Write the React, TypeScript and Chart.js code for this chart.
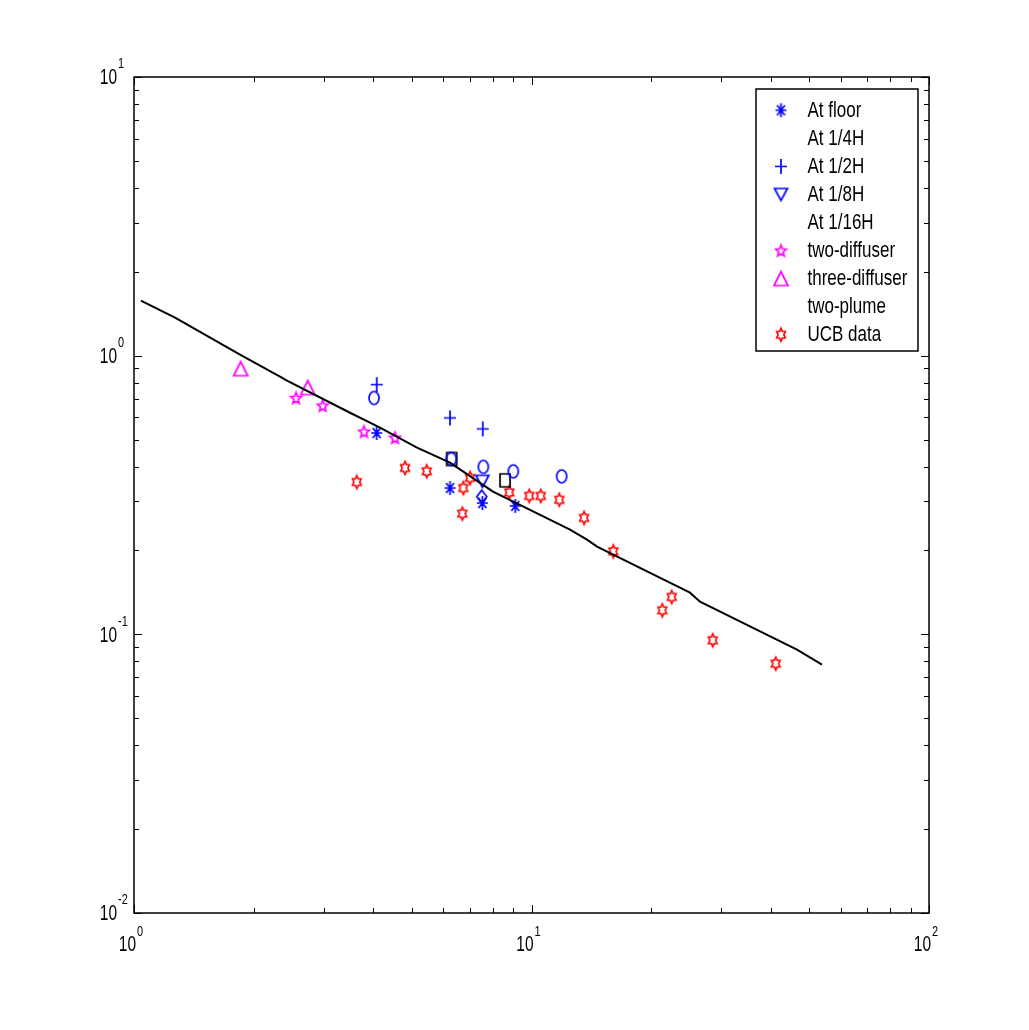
import React, { useEffect, useRef } from "react";
import { Chart, registerables } from "chart.js";

Chart.register(...registerables);

// Fitted correlation line
const FIT_X = [1.041, 1.268, 1.321, 1.848, 2.33, 2.426, 3.495, 4.158, 5.152, 6.237, 7.865, 8.002, 12.5, 13.79, 14.62, 25.04, 26.54, 46.55, 53.81];
const FIT_Y = [1.575, 1.369, 1.324, 1.008, 0.841, 0.813, 0.624, 0.552, 0.468, 0.413, 0.3305, 0.325, 0.2375, 0.2187, 0.2064, 0.1411, 0.131, 0.0881, 0.0778];

// At floor (asterisk)
const FLOOR_X = [4.079, 6.237, 7.523, 9.1];
const FLOOR_Y = [0.528, 0.335, 0.296, 0.289];
// At 1/4H (circle)
const QUARTER_X = [4.016, 6.284, 7.567, 8.999, 11.91];
const QUARTER_Y = [0.705, 0.426, 0.399, 0.3845, 0.369];
// At 1/2H (plus)
const HALF_X = [4.079, 6.237, 7.54];
const HALF_Y = [0.787, 0.598, 0.546];
// At 1/8H (triangle down)
const EIGHTH_X = [7.523];
const EIGHTH_Y = [0.354];
// At 1/16H (diamond)
const SIXTEENTH_X = [7.496];
const SIXTEENTH_Y = [0.312];
// two-diffuser (pentagram)
const TWO_DIFF_X = [2.556, 2.984, 3.791, 4.536];
const TWO_DIFF_Y = [0.705, 0.662, 0.534, 0.508];
// three-diffuser (triangle up)
const THREE_DIFF_X = [1.855, 2.735];
const THREE_DIFF_Y = [0.898, 0.768];
// two-plume (square)
const TWO_PLUME_X = [6.298, 8.579];
const TWO_PLUME_Y = [0.426, 0.357];
// UCB data (hexagram)
const UCB_X = [3.634, 4.806, 5.45, 6.698, 6.737, 7.003, 8.794, 9.874, 10.55, 11.75, 13.56, 16.06, 21.34, 22.53, 28.57, 41.15];
const UCB_Y = [0.352, 0.3955, 0.3845, 0.271, 0.335, 0.364, 0.323, 0.3138, 0.3138, 0.304, 0.2617, 0.1985, 0.122, 0.1362, 0.0952, 0.0785];

const LEGEND_LABELS = ["At floor", "At 1/4H", "At 1/2H", "At 1/8H", "At 1/16H", "two-diffuser", "three-diffuser", "two-plume", "UCB data"];
const LEGEND_SHOW_MARKER = [true, false, true, true, false, true, true, false, true];

const X_MAJOR = [1, 10, 100];
const X_EXP = ["0", "1", "2"];
const Y_MAJOR = [0.01, 0.1, 1, 10];
const Y_EXP = ["-2", "-1", "0", "1"];

const BLUE = "#0000ff";
const MAGENTA = "#ff00ff";
const RED = "#ff0000";
const FONT = "'Liberation Sans', Arial, sans-serif";

function zip(xs: number[], ys: number[]) {
  return xs.map((x, i) => ({ x, y: ys[i] }));
}

function makeMarker(kind: string, color: string, w: number, h: number, lw = 1.7) {
  const pad = 3;
  const c = document.createElement("canvas");
  c.width = Math.ceil(w + 2 * pad);
  c.height = Math.ceil(h + 2 * pad);
  const ctx = c.getContext("2d")!;
  const cx = c.width / 2;
  const cy = c.height / 2;
  const rx = w / 2;
  const ry = h / 2;
  ctx.strokeStyle = color;
  ctx.lineWidth = lw;
  ctx.lineJoin = "miter";
  ctx.beginPath();
  const poly = (pts: number[][]) => {
    pts.forEach((p, i) => (i === 0 ? ctx.moveTo(p[0], p[1]) : ctx.lineTo(p[0], p[1])));
    ctx.closePath();
  };
  switch (kind) {
    case "asterisk": {
      const d = 0.72;
      ctx.moveTo(cx, cy - ry); ctx.lineTo(cx, cy + ry);
      ctx.moveTo(cx - rx, cy); ctx.lineTo(cx + rx, cy);
      ctx.moveTo(cx - rx * d, cy - ry * d); ctx.lineTo(cx + rx * d, cy + ry * d);
      ctx.moveTo(cx - rx * d, cy + ry * d); ctx.lineTo(cx + rx * d, cy - ry * d);
      break;
    }
    case "plus":
      ctx.moveTo(cx, cy - ry); ctx.lineTo(cx, cy + ry);
      ctx.moveTo(cx - rx, cy); ctx.lineTo(cx + rx, cy);
      break;
    case "circle":
      ctx.ellipse(cx, cy, rx, ry, 0, 0, Math.PI * 2);
      break;
    case "square":
      ctx.rect(cx - rx, cy - ry, w, h);
      break;
    case "diamond":
      poly([[cx, cy - ry], [cx + rx, cy], [cx, cy + ry], [cx - rx, cy]]);
      break;
    case "triUp":
      poly([[cx, cy - ry], [cx + rx, cy + ry], [cx - rx, cy + ry]]);
      break;
    case "triDown":
      poly([[cx - rx, cy - ry], [cx + rx, cy - ry], [cx, cy + ry]]);
      break;
    case "star5": {
      const pts: number[][] = [];
      for (let k = 0; k < 10; k++) {
        const a = -Math.PI / 2 + (k * Math.PI) / 5;
        const r = k % 2 === 0 ? 1 : 0.45;
        pts.push([cx + rx * r * Math.cos(a), cy + ry * r * Math.sin(a) + ry * 0.08]);
      }
      poly(pts);
      break;
    }
    case "star6": {
      const pts: number[][] = [];
      for (let k = 0; k < 12; k++) {
        const a = -Math.PI / 2 + (k * Math.PI) / 6;
        const r = k % 2 === 0 ? 1 : 0.577;
        pts.push([cx + rx * r * Math.cos(a), cy + ry * r * Math.sin(a)]);
      }
      poly(pts);
      break;
    }
  }
  ctx.stroke();
  return c;
}

function drawText(ctx: CanvasRenderingContext2D, text: string, x: number, y: number, size: number, align: CanvasTextAlign, sy: number) {
  ctx.save();
  ctx.translate(x, y);
  ctx.scale(1, sy);
  ctx.font = `${size}px ${FONT}`;
  ctx.textAlign = align;
  ctx.textBaseline = "middle";
  ctx.fillStyle = "#000";
  ctx.fillText(text, 0, 0);
  ctx.restore();
}

export default function App() {
  const ref = useRef<HTMLCanvasElement | null>(null);

  useEffect(() => {
    const canvas = ref.current!;
    const markers = {
      asterisk: makeMarker("asterisk", BLUE, 11, 14),
      circle: makeMarker("circle", BLUE, 10, 13),
      plus: makeMarker("plus", BLUE, 12, 15),
      triDown: makeMarker("triDown", BLUE, 13, 12),
      diamond: makeMarker("diamond", BLUE, 10, 13),
      star5: makeMarker("star5", MAGENTA, 11, 12),
      triUp: makeMarker("triUp", MAGENTA, 14, 14),
      square: makeMarker("square", "#000", 10, 13),
      star6: makeMarker("star6", RED, 10, 13),
    };
    const legendMarkers = [markers.asterisk, markers.circle, markers.plus, markers.triDown, markers.diamond, markers.star5, markers.triUp, markers.square, markers.star6];

    const pt = (data: any[], style: HTMLCanvasElement, label: string) => ({
      type: "scatter" as const,
      label,
      data,
      pointStyle: style,
      pointRadius: 6,
      showLine: false,
    });

    const framePlugin = {
      id: "frame",
      afterDraw(chart: any) {
        const ctx: CanvasRenderingContext2D = chart.ctx;
        const { left, right, top, bottom } = chart.chartArea;
        const xs = chart.scales.x;
        const ys = chart.scales.y;
        ctx.save();
        ctx.strokeStyle = "#000";
        ctx.lineWidth = 1.5;
        ctx.strokeRect(left, top, right - left, bottom - top);
        ctx.lineWidth = 1;
        for (let d = 1; d < 100; d *= 10) {
          for (let m = 1; m <= 10; m++) {
            const v = d * m;
            const px = Math.round(xs.getPixelForValue(v)) + 0.5;
            const len = m === 1 || m === 10 ? 8 : 5;
            ctx.beginPath();
            ctx.moveTo(px, bottom); ctx.lineTo(px, bottom - len);
            ctx.moveTo(px, top); ctx.lineTo(px, top + len);
            ctx.stroke();
          }
        }
        for (let d = 0.01; d < 9; d *= 10) {
          for (let m = 1; m <= 10; m++) {
            const v = d * m;
            const py = Math.round(ys.getPixelForValue(v)) + 0.5;
            const len = m === 1 || m === 10 ? 8 : 5;
            ctx.beginPath();
            ctx.moveTo(left, py); ctx.lineTo(left + len, py);
            ctx.moveTo(right, py); ctx.lineTo(right - len, py);
            ctx.stroke();
          }
        }
        X_MAJOR.forEach((v, i) => {
          const px = xs.getPixelForValue(v);
          drawText(ctx, "10", px + 2, bottom + 32, 15.5, "right", 1.45);
          drawText(ctx, X_EXP[i], px + 3, bottom + 19, 11, "left", 1.4);
        });
        Y_MAJOR.forEach((v, i) => {
          const py = ys.getPixelForValue(v);
          drawText(ctx, "10", left - 17, py + 1, 15.5, "right", 1.45);
          drawText(ctx, Y_EXP[i], left - 16, py - 13, 11, "left", 1.4);
        });
        const lx = 756, ly = 89, lw = 162, lh = 262;
        ctx.fillStyle = "#fff";
        ctx.fillRect(lx, ly, lw, lh);
        ctx.lineWidth = 1.5;
        ctx.strokeStyle = "#000";
        ctx.strokeRect(lx, ly, lw, lh);
        LEGEND_LABELS.forEach((lab, i) => {
          const cy = 110.3 + i * 28.05;
          if (LEGEND_SHOW_MARKER[i]) {
            const m = legendMarkers[i];
            ctx.drawImage(m, 781 - m.width / 2, cy - m.height / 2);
          }
          drawText(ctx, lab, 807.5, cy, 17, "left", 1.35);
        });
        ctx.restore();
      },
    };

    const chart = new Chart(canvas, {
      type: "scatter",
      data: {
        datasets: [
          {
            type: "line",
            label: "fit",
            data: zip(FIT_X, FIT_Y),
            borderColor: "#000",
            borderWidth: 2,
            pointRadius: 0,
            fill: false,
            tension: 0,
          } as any,
          pt(zip(FLOOR_X, FLOOR_Y), markers.asterisk, LEGEND_LABELS[0]),
          pt(zip(QUARTER_X, QUARTER_Y), markers.circle, LEGEND_LABELS[1]),
          pt(zip(HALF_X, HALF_Y), markers.plus, LEGEND_LABELS[2]),
          pt(zip(EIGHTH_X, EIGHTH_Y), markers.triDown, LEGEND_LABELS[3]),
          pt(zip(SIXTEENTH_X, SIXTEENTH_Y), markers.diamond, LEGEND_LABELS[4]),
          pt(zip(TWO_DIFF_X, TWO_DIFF_Y), markers.star5, LEGEND_LABELS[5]),
          pt(zip(THREE_DIFF_X, THREE_DIFF_Y), markers.triUp, LEGEND_LABELS[6]),
          pt(zip(TWO_PLUME_X, TWO_PLUME_Y), markers.square, LEGEND_LABELS[7]),
          pt(zip(UCB_X, UCB_Y), markers.star6, LEGEND_LABELS[8]),
        ],
      },
      options: {
        animation: false,
        responsive: false,
        devicePixelRatio: 1,
        layout: { padding: { left: 134, top: 77, right: 100, bottom: 117 } },
        plugins: { legend: { display: false }, tooltip: { enabled: false } },
        scales: {
          x: { type: "logarithmic", min: 1, max: 100, display: false },
          y: { type: "logarithmic", min: 0.01, max: 10, display: false },
        },
      },
      plugins: [framePlugin],
    });
    return () => chart.destroy();
  }, []);

  return (
    <div style={{ position: "fixed", left: 0, top: 0, width: 1029, height: 1030, background: "#fff" }}>
      <canvas ref={ref} width={1029} height={1030} style={{ display: "block" }} />
    </div>
  );
}
